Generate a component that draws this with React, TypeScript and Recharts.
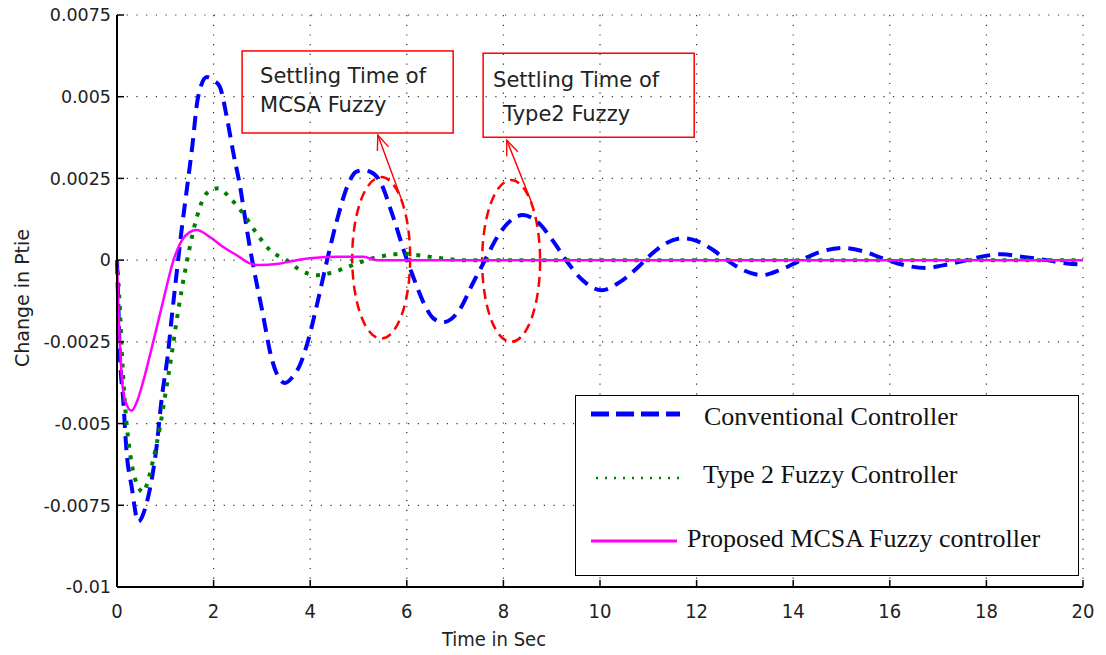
import React from "react";
import { LineChart, Line, XAxis, YAxis, CartesianGrid, Legend, ReferenceArea, ReferenceLine, Label } from "recharts";

// Time points / values, one pair of arrays per controller
const conventionalT = [0, 0.02, 0.06, 0.13, 0.2, 0.3, 0.44, 0.61, 0.72, 0.82, 0.92, 1.06, 1.13, 1.25, 1.34, 1.44, 1.55, 1.68, 1.86, 2.0, 2.13, 2.27, 2.41, 2.55, 2.65, 2.75, 2.85, 3.0, 3.2, 3.35, 3.48, 3.62, 3.79, 3.95, 4.15, 4.35, 4.55, 4.78, 4.95, 5.09, 5.25, 5.45, 5.7, 5.96, 6.13, 6.38, 6.55, 6.75, 6.92, 7.1, 7.37, 7.62, 7.87, 8.14, 8.4, 8.7, 9.03, 9.32, 9.63, 10.04, 10.4, 10.77, 11.04, 11.35, 11.72, 12.0, 12.28, 12.63, 12.96, 13.35, 13.73, 14.08, 14.55, 15.03, 15.45, 15.86, 16.35, 16.77, 17.1, 17.6, 17.87, 18.32, 18.76, 19.25, 19.67, 20];
const conventionalV = [0, -0.001, -0.0029, -0.0043, -0.0059, -0.0069, -0.008, -0.00745, -0.0067, -0.0057, -0.0043, -0.0028, -0.0018, -0.0002, 0.00095, 0.0021, 0.00337, 0.005, 0.0056, 0.0055, 0.0053, 0.0044, 0.00327, 0.00224, 0.0013, 0.0004, -0.0004, -0.0015, -0.003, -0.0036, -0.00376, -0.0036, -0.0032, -0.0025, -0.0013, 0, 0.0012, 0.0023, 0.0027, 0.00275, 0.0027, 0.0024, 0.0014, 0.0002, -0.0005, -0.0014, -0.00178, -0.0019, -0.0018, -0.0015, -0.0007, 0, 0.0007, 0.0012, 0.00138, 0.00118, 0.00058, -0.00005, -0.0006, -0.00092, -0.00068, -0.00024, 0.00015, 0.0005, 0.00067, 0.00059, 0.00037, 0, -0.0003, -0.00046, -0.0003, -0.00006, 0.00025, 0.00037, 0.00027, 0.00005, -0.00017, -0.00024, -0.00016, 0, 0.0001, 0.00018, 0.0001, 0, -0.0001, -0.00014];

const type2T = [0, 0.06, 0.1, 0.17, 0.27, 0.4, 0.55, 0.61, 0.75, 0.89, 0.99, 1.13, 1.23, 1.34, 1.44, 1.55, 1.65, 1.86, 2.1, 2.34, 2.61, 2.89, 3.17, 3.51, 3.79, 4.14, 4.4, 4.62, 4.97, 5.3, 5.6, 5.93, 6.2, 6.48, 6.8, 7.17, 8, 10, 12, 14, 16, 18, 20];
const type2V = [0, -0.0015, -0.0028, -0.0045, -0.0059, -0.0068, -0.0071, -0.0069, -0.0061, -0.0051, -0.0042, -0.0029, -0.0019, -0.0009, -0.0001, 0.0007, 0.0013, 0.00205, 0.0022, 0.0019, 0.00143, 0.00082, 0.0003, 0, -0.0003, -0.00046, -0.0004, -0.0003, -0.0001, 0.00006, 0.00015, 0.0002, 0.00016, 0.0001, 0.00004, 0, 0, 0, 0, 0, 0, 0, 0];

const mcsaT = [0, 0.03, 0.1, 0.17, 0.3, 0.42, 0.55, 0.75, 0.96, 1.17, 1.34, 1.5, 1.65, 1.93, 2.2, 2.48, 2.75, 2.96, 3.3, 3.72, 4.0, 4.62, 5.1, 5.38, 6, 8, 10, 12, 14, 16, 18, 20];
const mcsaV = [0, -0.0015, -0.0036, -0.0043, -0.00461, -0.0043, -0.00367, -0.0025, -0.00122, 0, 0.0006, 0.00085, 0.00092, 0.0007, 0.0004, 0.00015, -0.0001, -0.00015, -0.00012, 0, 0.00006, 0.0001, 0.0001, 0, 0, 0, 0, 0, 0, 0, 0, 0];

const seriesNames = ["Conventional Controller", "Type 2 Fuzzy Controller", "Proposed MCSA Fuzzy controller"];

const xTicks = [0, 2, 4, 6, 8, 10, 12, 14, 16, 18, 20];
const yTicks = [-0.01, -0.0075, -0.005, -0.0025, 0, 0.0025, 0.005, 0.0075];
const yTickLabels = ["-0.01", "-0.0075", "-0.005", "-0.0025", "0", "0.0025", "0.005", "0.0075"];

// settling-time ellipses: [t1, t2, v1, v2]
const ellipses = [
  [4.87, 6.07, -0.0024, 0.00254],
  [7.56, 8.76, -0.0025, 0.00245],
];
// annotation boxes
const noteTexts = [
  ["Settling Time of", "MCSA Fuzzy"],
  ["Settling Time of", "Type2 Fuzzy"],
];
const noteBoxes = [
  [2.59, 6.96, 0.0064, 0.00389],
  [7.58, 11.95, 0.00633, 0.00376],
];
// arrows from ellipse to box: [tFrom, vFrom, tTo, vTo]
const arrows = [
  [5.92, 0.00174, 5.4, 0.00383],
  [8.59, 0.00174, 8.07, 0.00367],
];

const zip = (t: number[], v: number[]) => t.map((x, i) => ({ t: x, v: v[i] }));
const conventional = zip(conventionalT, conventionalV);
const type2 = zip(type2T, type2V);
const mcsa = zip(mcsaT, mcsaV);

const SANS = "'DejaVu Sans', Verdana, sans-serif";
const NARROW = "'Liberation Sans Narrow', 'DejaVu Sans Condensed', sans-serif";
const SERIF = "'Liberation Serif', 'Times New Roman', serif";

const BottomTick = ({ x, y, payload }: any) => (
  <g>
    <line x1={x} x2={x} y1={y} y2={y - 7} stroke="#000" strokeWidth={1.5} />
    <text x={x} y={y + 31} textAnchor="middle" fontFamily={NARROW} fontSize={20} fill="#222">
      {payload.value}
    </text>
  </g>
);

const LeftTick = ({ x, y, payload }: any) => {
  const i = yTicks.indexOf(payload.value);
  return (
    <g>
      <line x1={x} x2={x + 7} y1={y} y2={y} stroke="#000" strokeWidth={1.5} />
      <text x={x - 6} y={y} dy="0.36em" textAnchor="end" fontFamily={SANS} fontSize={17.5} fill="#222">
        {i >= 0 ? yTickLabels[i] : payload.value}
      </text>
    </g>
  );
};

const TopTick = ({ x, y }: any) => <line x1={x} x2={x} y1={y} y2={y + 7} stroke="#000" strokeWidth={1.5} />;
const RightTick = ({ x, y }: any) => <line x1={x} x2={x - 7} y1={y} y2={y} stroke="#000" strokeWidth={1.5} />;

const EllipseShape = (p: any) => (
  <ellipse
    cx={p.x + p.width / 2}
    cy={p.y + p.height / 2}
    rx={p.width / 2}
    ry={p.height / 2}
    fill="none"
    stroke="#ff0000"
    strokeWidth={2.5}
    strokeDasharray="10 6"
  />
);

const noteShape = (lines: string[], idx: number) => (p: any) => (
  <g>
    <rect x={p.x} y={p.y} width={p.width} height={p.height} fill="none" stroke="#ff0000" strokeWidth={1.5} />
    <text x={p.x + (idx === 0 ? 18 : 10)} y={p.y + (idx === 0 ? 32 : 34)} fontFamily={SANS} fontSize={21} fill="#222">
      {lines[0]}
    </text>
    <text x={p.x + (idx === 0 ? 18 : 20)} y={p.y + (idx === 0 ? 61 : 68)} fontFamily={SANS} fontSize={21} fill="#222">
      {lines[1]}
    </text>
  </g>
);

const ArrowShape = (p: any) => {
  const { x1, y1, x2, y2 } = p;
  const a = Math.atan2(y2 - y1, x2 - x1);
  const len = 16;
  const spread = 0.38;
  const hx1 = x2 - len * Math.cos(a - spread);
  const hy1 = y2 - len * Math.sin(a - spread);
  const hx2 = x2 - len * Math.cos(a + spread);
  const hy2 = y2 - len * Math.sin(a + spread);
  return (
    <g stroke="#ff0000" strokeWidth={1.4} fill="none">
      <line x1={x1} y1={y1} x2={x2} y2={y2} />
      <path d={`M${hx1},${hy1} L${x2},${y2} L${hx2},${hy2}`} />
    </g>
  );
};

const legendSamples = [
  { stroke: "#0000ff", width: 5, dash: "18 7", x1: 15, x2: 104, y: 18, tx: 128, ty: 20 },
  { stroke: "#008000", width: 2.5, dash: "2 7", x1: 20, x2: 105, y: 82, tx: 127, ty: 78 },
  { stroke: "#ff00ff", width: 3, dash: undefined, x1: 15, x2: 101, y: 145, tx: 111, ty: 142 },
];

const LegendBox = ({ payload }: any) => (
  <div style={{ width: 504, height: 181, border: "1.5px solid #000", background: "#fff", boxSizing: "border-box" }}>
    <svg width={501} height={178}>
      {(payload || []).map((entry: any) => {
        const s = legendSamples[seriesNames.indexOf(entry.value)];
        if (!s) return null;
        return (
          <g key={entry.value}>
            <line x1={s.x1} x2={s.x2} y1={s.y} y2={s.y} stroke={s.stroke} strokeWidth={s.width} strokeDasharray={s.dash} />
            <text x={s.tx} y={s.ty} dy="0.35em" fontFamily={SERIF} fontSize={26} fill="#111">
              {entry.value}
            </text>
          </g>
        );
      })}
    </svg>
  </div>
);

export default function App() {
  return (
    <div style={{ position: "absolute", left: 0, top: 0, width: 1106, height: 655, background: "#fff" }}>
      <LineChart width={1106} height={655} margin={{ top: 15, right: 23, bottom: 0, left: 37 }}>
        <CartesianGrid stroke="#333" strokeWidth={1.2} strokeDasharray="1.2 8.5" />
        <XAxis
          dataKey="t"
          type="number"
          domain={[0, 20]}
          ticks={xTicks}
          interval={0}
          height={68}
          tickSize={0}
          tickMargin={0}
          tickLine={false}
          axisLine={{ stroke: "#000", strokeWidth: 2 }}
          tick={<BottomTick />}
        >
          <Label
            content={(p: any) => {
              const vb = p.viewBox;
              return (
                <text x={vb.x + vb.width / 2 - 106} y={vb.y + 59} textAnchor="middle" fontFamily={NARROW} fontSize={20} fill="#222">
                  Time in Sec
                </text>
              );
            }}
          />
        </XAxis>
        <XAxis
          xAxisId="top"
          orientation="top"
          dataKey="t"
          type="number"
          domain={[0, 20]}
          ticks={xTicks}
          interval={0}
          height={0}
          tickSize={0}
          tickMargin={0}
          tickLine={false}
          axisLine={{ stroke: "#000", strokeWidth: 2 }}
          tick={<TopTick />}
        />
        <YAxis
          type="number"
          domain={[-0.01, 0.0075]}
          ticks={yTicks}
          interval={0}
          width={80}
          tickSize={0}
          tickMargin={0}
          tickLine={false}
          axisLine={{ stroke: "#000", strokeWidth: 2 }}
          tick={<LeftTick />}
        >
          <Label
            content={() => (
              <text x={22} y={298} transform="rotate(-90, 22, 298)" textAnchor="middle" dy="0.35em" fontFamily={SANS} fontSize={19} fill="#222">
                Change in Ptie
              </text>
            )}
          />
        </YAxis>
        <YAxis
          yAxisId="right"
          orientation="right"
          type="number"
          domain={[-0.01, 0.0075]}
          ticks={yTicks}
          interval={0}
          width={0}
          tickSize={0}
          tickMargin={0}
          tickLine={false}
          axisLine={{ stroke: "#000", strokeWidth: 2 }}
          tick={<RightTick />}
        />
        {ellipses.map((e, i) => (
          <ReferenceArea key={`el-${i}`} x1={e[0]} x2={e[1]} y1={e[2]} y2={e[3]} shape={EllipseShape} />
        ))}
        {noteBoxes.map((b, i) => (
          <ReferenceArea key={`nb-${i}`} x1={b[0]} x2={b[1]} y1={b[2]} y2={b[3]} shape={noteShape(noteTexts[i], i)} />
        ))}
        {arrows.map((a, i) => (
          <ReferenceLine key={`ar-${i}`} segment={[{ x: a[0], y: a[1] }, { x: a[2], y: a[3] }]} shape={ArrowShape} />
        ))}
        <Line
          data={conventional}
          dataKey="v"
          name={seriesNames[0]}
          type="monotone"
          stroke="#0000ff"
          strokeWidth={4}
          strokeDasharray="14 8"
          dot={false}
          isAnimationActive={false}
        />
        <Line
          data={type2}
          dataKey="v"
          name={seriesNames[1]}
          type="monotone"
          stroke="#008000"
          strokeWidth={4}
          strokeDasharray="4 7.5"
          dot={false}
          isAnimationActive={false}
        />
        <Line
          data={mcsa}
          dataKey="v"
          name={seriesNames[2]}
          type="monotone"
          stroke="#ff00ff"
          strokeWidth={2.5}
          dot={false}
          isAnimationActive={false}
        />
        <Legend
          layout="vertical"
          align="center"
          verticalAlign="middle"
          content={<LegendBox />}
          wrapperStyle={{ left: 575, top: 395, width: 504, height: 181, bottom: "auto" }}
        />
      </LineChart>
    </div>
  );
}
